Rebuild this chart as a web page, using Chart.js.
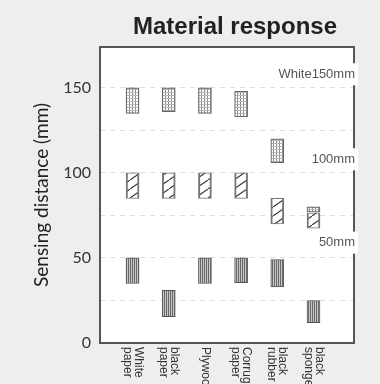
<!DOCTYPE html>
<html>
<head>
<meta charset="utf-8">
<script src="https://cdn.jsdelivr.net/npm/chart.js@4/dist/chart.umd.min.js"></script>
<style>
  html, body { margin: 0; padding: 0; background: #eeeeee; }
</style>
</head>
<body>
<canvas id="chart" width="380" height="384"></canvas>
<script>
// categories along x (each label may wrap on two lines)
const categories = [['White', 'paper'], ['black', 'paper'], ['Plywood'], ['Corrugated', 'paper'], ['black', 'rubber'], ['black', 'sponge']];
const positions = [1, 2, 3, 4, 5, 6];

// detection ranges [from, to] in mm for each target distance
const range150 = [[135, 150], [136, 150], [135, 150], [133, 148], [106, 120], [77, 80]];
const range100 = [[85, 100], [85, 100], [85, 100], [85, 100], [70, 85], [67.5, 76.5]];
const range50 = [[35, 50], [15.5, 31], [35, 50], [35.5, 50], [33, 49], [12, 25]];

const seriesNames = ['White150mm', '100mm', '50mm'];
const seriesNoteAt = [158, 108, 59];
const yTickLabels = [0, 50, 100, 150];

function tile(w, h, draw) {
  const c = document.createElement('canvas');
  c.width = w; c.height = h;
  const g = c.getContext('2d');
  draw(g, w, h);
  return g.createPattern(c, 'repeat');
}

// dotted grid
const dotFill = tile(3, 3, function(g) {
  g.fillStyle = '#ffffff'; g.fillRect(0, 0, 3, 3);
  g.fillStyle = '#8a8a8a'; g.fillRect(0, 0, 1, 2);
  g.fillStyle = '#b5b5b5'; g.fillRect(0, 2, 3, 1);
});
// diagonal hatch
const hatchFill = tile(13, 9, function(g, w, h) {
  g.fillStyle = '#ffffff'; g.fillRect(0, 0, w, h);
  g.strokeStyle = '#333333'; g.lineWidth = 1.1;
  for (const d of [-1, 0, 1]) {
    g.beginPath();
    g.moveTo(d * w, h - d * h);
    g.lineTo(w + d * w, -d * h);
    g.stroke();
  }
});
// vertical stripes
const stripeFill = tile(2, 1, function(g) {
  g.fillStyle = '#6a6a6a'; g.fillRect(0, 0, 1, 1);
  g.fillStyle = '#c6c6c6'; g.fillRect(1, 0, 1, 1);
});

function toPoints(ranges) {
  return ranges.map((r, i) => ({ x: positions[i], y: r }));
}

const chartDecor = {
  id: 'chartDecor',
  beforeDraw(chart) {
    const { ctx, chartArea: a } = chart;
    ctx.save();
    ctx.fillStyle = '#ffffff';
    ctx.fillRect(a.left, a.top, a.right - a.left, a.bottom - a.top);
    ctx.restore();
  },
  afterDraw(chart) {
    const { ctx, chartArea: a } = chart;
    const xs = chart.scales.x, ys = chart.scales.y;
    ctx.save();
    // frame
    ctx.strokeStyle = '#555555';
    ctx.lineWidth = 2;
    ctx.strokeRect(a.left, a.top, a.right - a.left, a.bottom - a.top);

    // title
    ctx.fillStyle = '#222222';
    ctx.font = 'bold 24px "Liberation Sans", Arial, sans-serif';
    ctx.textAlign = 'center';
    ctx.textBaseline = 'alphabetic';
    ctx.fillText('Material response', 235, 34);

    // series notes on the right edge
    ctx.font = '13px "Liberation Sans", Arial, sans-serif';
    ctx.textAlign = 'right';
    ctx.textBaseline = 'middle';
    seriesNames.forEach((name, i) => {
      const y = ys.getPixelForValue(seriesNoteAt[i]);
      const w = ctx.measureText(name).width;
      ctx.fillStyle = '#ffffff';
      ctx.fillRect(a.right - w - 3, y - 11, w + 7, 22);
      ctx.fillStyle = '#555555';
      ctx.fillText(name, a.right + 1, y);
    });

    // x labels, turned clockwise
    ctx.font = '12px "Liberation Sans", Arial, sans-serif';
    ctx.fillStyle = '#333333';
    ctx.textAlign = 'left';
    ctx.textBaseline = 'middle';
    const gap = 11;
    categories.forEach((lines, i) => {
      const x = xs.getPixelForValue(positions[i]);
      ctx.save();
      ctx.translate(x, a.bottom + 4);
      ctx.rotate(Math.PI / 2);
      lines.forEach((t, j) => {
        ctx.fillText(t, 0, (j - (lines.length - 1) / 2) * gap);
      });
      ctx.restore();
    });
    ctx.restore();
  }
};

new Chart(document.getElementById('chart'), {
  type: 'bar',
  data: {
    datasets: [
      { label: seriesNames[0], data: toPoints(range150), backgroundColor: dotFill, borderColor: '#666666', borderWidth: 1.2 },
      { label: seriesNames[1], data: toPoints(range100), backgroundColor: hatchFill, borderColor: '#777777', borderWidth: { top: 1, bottom: 1, left: 2, right: 2 } },
      { label: seriesNames[2], data: toPoints(range50), backgroundColor: stripeFill, borderColor: '#555555', borderWidth: 1 }
    ]
  },
  options: {
    responsive: false,
    animation: false,
    layout: { padding: { top: 47, right: 26, bottom: 0, left: 0 } },
    datasets: {
      bar: { grouped: false, barThickness: 13, borderSkipped: false }
    },
    scales: {
      x: {
        type: 'linear',
        min: 0.1,
        max: 7.12,
        offset: false,
        grid: { display: false },
        border: { display: false },
        ticks: { display: false },
        afterFit: function(scale) { scale.height = 41; }
      },
      y: {
        min: 0,
        max: 174,
        grid: {
          color: ctx => (ctx.tick.value === 0 ? 'rgba(0,0,0,0)' : '#dddddd'),
          drawTicks: false,
          lineWidth: 1
        },
        border: { display: false, dash: [5, 5] },
        ticks: {
          stepSize: 25,
          includeBounds: false,
          padding: 9,
          color: '#333333',
          font: { family: 'Lato', size: 16 },
          callback: v => (yTickLabels.includes(v) ? String(v) : '')
        },
        title: {
          display: true,
          text: 'Sensing distance (mm)',
          color: '#222222',
          font: { family: 'Lato', size: 19 },
          padding: { top: 30, bottom: 0 }
        },
        afterFit: function(scale) { scale.width = 100; }
      }
    },
    plugins: {
      legend: { display: false },
      tooltip: { enabled: false }
    }
  },
  plugins: [chartDecor]
});
</script>
</body>
</html>
